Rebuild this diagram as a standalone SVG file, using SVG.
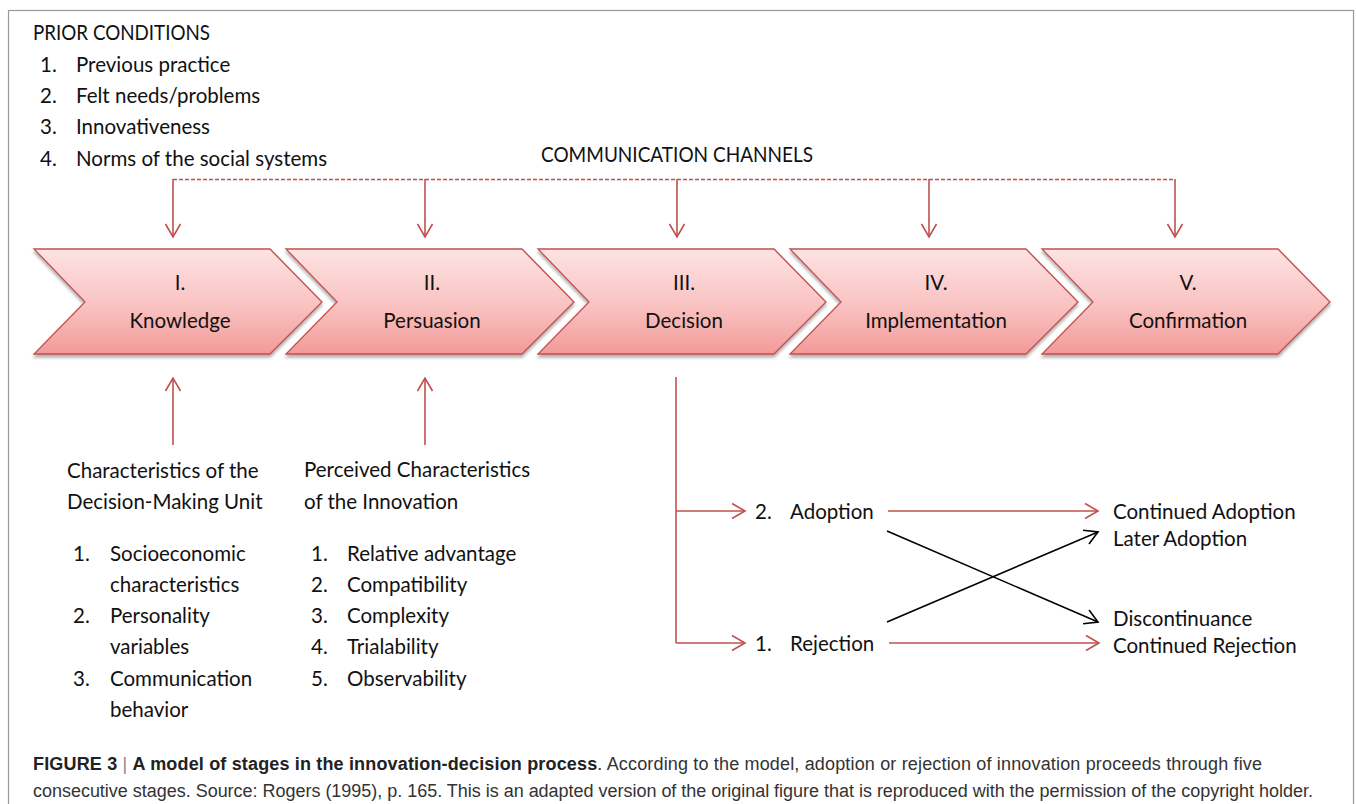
<svg xmlns="http://www.w3.org/2000/svg" width="1356" height="804" viewBox="0 0 1356 804">
<style>
.t{font-family:Lato,"Open Sans",sans-serif;font-size:20.5px;fill:#111}
.c{text-anchor:middle}
.cap{font-family:"Liberation Sans",Arial,sans-serif;font-size:18px;fill:#333}
.r{stroke:#c0504d;stroke-width:1.6;fill:none}
.k{stroke:#000;stroke-width:1.6;fill:none}
.chev{fill:url(#g);stroke:#c0504d;stroke-width:1.3;filter:url(#sh)}
</style>
<defs>
<linearGradient id="g" x1="0" y1="0" x2="0" y2="1">
<stop offset="0" stop-color="#fde3e3"/>
<stop offset="0.55" stop-color="#f9c2c1"/>
<stop offset="1" stop-color="#f29a99"/>
</linearGradient>
<filter id="sh" x="-5%" y="-10%" width="110%" height="130%">
<feDropShadow dx="0" dy="3" stdDeviation="1.5" flood-color="#000" flood-opacity="0.3"/>
</filter>
<marker id="ar" viewBox="-1 -9 16 18" markerWidth="16" markerHeight="18" refX="13" refY="0" orient="auto" markerUnits="userSpaceOnUse">
<path d="M0,-7.5 L13,0 L0,7.5" fill="none" stroke="#c0504d" stroke-width="1.6"/>
</marker>
<marker id="ak" viewBox="-1 -9 16 18" markerWidth="16" markerHeight="18" refX="13" refY="0" orient="auto" markerUnits="userSpaceOnUse">
<path d="M0,-7.5 L13,0 L0,7.5" fill="none" stroke="#000" stroke-width="1.6"/>
</marker>
<path id="chv" d="M0,0 L236,0 L288,53 L236,105 L0,105 L51,53 Z"/>
</defs>

<rect x="8.5" y="10.5" width="1345" height="820" fill="#fff" stroke="#999" stroke-width="1.2"/>

<g id="prior">
<text class="t" x="33" y="40" textLength="177" lengthAdjust="spacingAndGlyphs">PRIOR CONDITIONS</text>
<text class="t" x="40" y="72">1.</text><text class="t" x="76" y="72">Previous practice</text>
<text class="t" x="40" y="103">2.</text><text class="t" x="76" y="103">Felt needs/problems</text>
<text class="t" x="40" y="134">3.</text><text class="t" x="76" y="134">Innovativeness</text>
<text class="t" x="40" y="166">4.</text><text class="t" x="76" y="166">Norms of the social systems</text>
</g>

<g id="comm">
<text class="t" x="541" y="162" textLength="272" lengthAdjust="spacingAndGlyphs">COMMUNICATION CHANNELS</text>
</g>

<g id="stage1"><use href="#chv" x="34" y="249" class="chev"/>
<text class="t c" x="180" y="290">I.</text><text class="t c" x="180" y="328">Knowledge</text></g>
<g id="stage2"><use href="#chv" x="286" y="249" class="chev"/>
<text class="t c" x="432" y="290">II.</text><text class="t c" x="432" y="328">Persuasion</text></g>
<g id="stage3"><use href="#chv" x="538" y="249" class="chev"/>
<text class="t c" x="684" y="290">III.</text><text class="t c" x="684" y="328">Decision</text></g>
<g id="stage4"><use href="#chv" x="790" y="249" class="chev"/>
<text class="t c" x="936" y="290">IV.</text><text class="t c" x="936" y="328">Implementation</text></g>
<g id="stage5"><use href="#chv" x="1042" y="249" class="chev"/>
<text class="t c" x="1188" y="290">V.</text><text class="t c" x="1188" y="328">Confirmation</text></g>

<g id="dmu">
<text class="t" x="67" y="478">Characteristics of the</text>
<text class="t" x="67" y="509">Decision-Making Unit</text>
<text class="t" x="73" y="561">1.</text><text class="t" x="110" y="561">Socioeconomic</text>
<text class="t" x="110" y="592">characteristics</text>
<text class="t" x="73" y="623">2.</text><text class="t" x="110" y="623">Personality</text>
<text class="t" x="110" y="654">variables</text>
<text class="t" x="73" y="686">3.</text><text class="t" x="110" y="686">Communication</text>
<text class="t" x="110" y="717">behavior</text>
</g>

<g id="pci">
<text class="t" x="304" y="477">Perceived Characteristics</text>
<text class="t" x="304" y="509">of the Innovation</text>
<text class="t" x="311" y="561">1.</text><text class="t" x="347" y="561">Relative advantage</text>
<text class="t" x="311" y="592">2.</text><text class="t" x="347" y="592">Compatibility</text>
<text class="t" x="311" y="623">3.</text><text class="t" x="347" y="623">Complexity</text>
<text class="t" x="311" y="654">4.</text><text class="t" x="347" y="654">Trialability</text>
<text class="t" x="311" y="686">5.</text><text class="t" x="347" y="686">Observability</text>
</g>

<g id="adoption"><text class="t" x="755" y="519">2.</text><text class="t" x="790" y="519">Adoption</text></g>
<g id="rejection"><text class="t" x="755" y="651">1.</text><text class="t" x="790" y="651">Rejection</text></g>
<g id="outcomes-adopt"><text class="t" x="1113" y="519">Continued Adoption</text><text class="t" x="1113" y="546">Later Adoption</text></g>
<g id="outcomes-reject"><text class="t" x="1113" y="626">Discontinuance</text><text class="t" x="1113" y="653">Continued Rejection</text></g>

<g id="connectors">
<path class="r" d="M173,179.5 H1175" stroke-dasharray="4 2" stroke-width="1.1"/>
<line class="r" x1="173" y1="179" x2="173" y2="237" marker-end="url(#ar)"/>
<line class="r" x1="425" y1="179" x2="425" y2="237" marker-end="url(#ar)"/>
<line class="r" x1="677" y1="179" x2="677" y2="237" marker-end="url(#ar)"/>
<line class="r" x1="929" y1="179" x2="929" y2="237" marker-end="url(#ar)"/>
<line class="r" x1="1175" y1="179" x2="1175" y2="237" marker-end="url(#ar)"/>
<line class="r" x1="173" y1="445" x2="173" y2="378" marker-end="url(#ar)"/>
<line class="r" x1="425" y1="445" x2="425" y2="378" marker-end="url(#ar)"/>
<path class="r" d="M676,377 V643"/>
<line class="r" x1="676" y1="511" x2="745" y2="511" marker-end="url(#ar)"/>
<line class="r" x1="676" y1="643" x2="745" y2="643" marker-end="url(#ar)"/>
<line class="r" x1="888" y1="511" x2="1098" y2="511" marker-end="url(#ar)"/>
<line class="r" x1="889" y1="643" x2="1099" y2="643" marker-end="url(#ar)"/>
<line class="k" x1="887" y1="531" x2="1098" y2="622" marker-end="url(#ak)"/>
<line class="k" x1="887" y1="622" x2="1098" y2="532" marker-end="url(#ak)"/>
</g>

<g id="caption">
<text class="cap" x="33" y="770" textLength="1229" lengthAdjust="spacing"><tspan font-weight="bold" fill="#222">FIGURE 3</tspan><tspan fill="#888"> | </tspan><tspan font-weight="bold" fill="#222">A model of stages in the innovation-decision process</tspan>. According to the model, adoption or rejection of innovation proceeds through five</text>
<text class="cap" x="33" y="797" textLength="1280" lengthAdjust="spacing">consecutive stages. Source: Rogers (1995), p. 165. This is an adapted version of the original figure that is reproduced with the permission of the copyright holder.</text>
</g>
</svg>
